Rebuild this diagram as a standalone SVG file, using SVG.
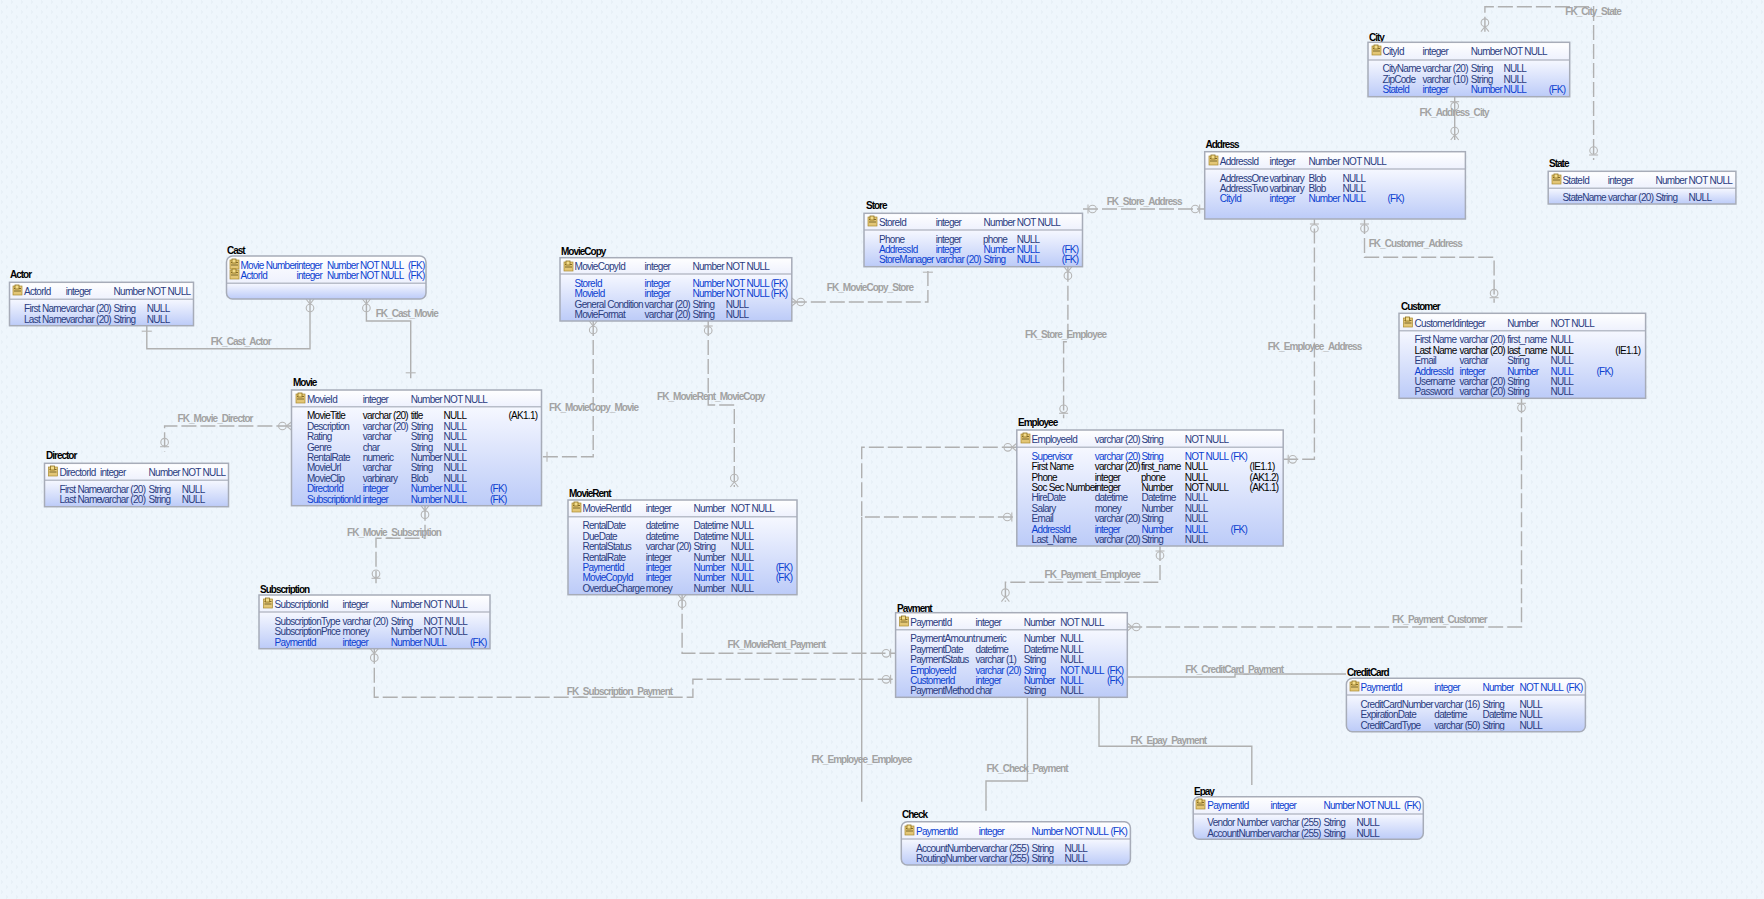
<svg xmlns="http://www.w3.org/2000/svg" width="1764" height="899" viewBox="0 0 1764 899">
<style>
text{font-family:"Liberation Sans",Arial,sans-serif;font-size:10px;letter-spacing:-.72px;white-space:pre}
.t{font-weight:700;font-size:10px;letter-spacing:-1px;fill:#000}
.l{font-weight:700;font-size:10px;letter-spacing:-.95px;fill:#a2a2a2}
.n{fill:#2a3c7e}.f{fill:#0b3fd0}.k{fill:#000}
.o{fill:none;stroke:#a7acb8;stroke-width:1.5}
.h{fill:url(#hg)}.b{fill:url(#bg)}
.d{stroke:#b8bdc9;stroke-width:1.5;fill:none}
.s,.w{fill:none;stroke:#b0b0b0;stroke-width:1.4}
.w{stroke-dasharray:15 4}
.m{fill:none;stroke:#b6b6b6;stroke-width:1.1}
</style>
<defs>
<pattern id="p" width="10" height="10" patternUnits="userSpaceOnUse"><rect width="10" height="10" fill="#eff6fc"/><path d="M1 1h1M2 2h1M1 3h1M6 6h1M7 7h1M6 8h1" stroke="#e2eaf3" stroke-width="1"/></pattern>
<linearGradient id="hg" x1="0" y1="0" x2="0" y2="1"><stop offset="0" stop-color="#fff"/><stop offset="1" stop-color="#eef1fd"/></linearGradient>
<linearGradient id="bg" x1="0" y1="0" x2="0" y2="1"><stop offset="0" stop-color="#f6f8ff"/><stop offset="1" stop-color="#bccbf8"/></linearGradient>
<g id="key"><rect x="0" y="1" width="9" height="9" fill="#e3c676" stroke="#a98a30" stroke-width=".7"/><path d="M1 3.5h7M1 6h7" stroke="#7d6a2c" stroke-width="1"/><rect x="2" y="0" width="4" height="4" fill="#f3dc8a" stroke="#8d6f1d" stroke-width=".8"/></g>
<g id="cf" class="m"><path d="M-4 0L0 5L4 0"/><circle cx="0" cy="9" r="3.8"/></g>
<g id="zb" class="m"><path d="M-4.5 5H4.5"/><circle cx="0" cy="9.5" r="3.8"/></g>
<g id="cr" class="m"><path d="M-5 5.5H5"/></g>
<clipPath id="c1"><rect x="902" y="850" width="228" height="13.5"/></clipPath>
<clipPath id="c2"><rect x="1347" y="717" width="238" height="13.2"/></clipPath>
</defs>
<rect width="1764" height="899" fill="url(#p)"/>

<g id="connectors">
<path class="s" d="M146.8 326V348.7H310V299"/>
<path class="s" d="M366.4 299V321H410.7V378.3"/>
<path class="w" d="M291.4 426H164.6V451.7"/>
<path class="w" d="M593.2 321V456.7H541.5"/>
<path class="w" d="M708.2 321V405H734.3V487"/>
<path class="w" d="M791.8 302H927.9V266.7"/>
<path class="w" d="M1067.9 266.7V341.7H1063.6V418.3"/>
<path class="w" d="M1083 209H1204.7"/>
<path class="s" d="M1454.7 96.7V140"/>
<path class="w" d="M1484.9 31.7V6.7H1593.6V160"/>
<path class="w" d="M1283.2 459.3H1314.4V219"/>
<path class="w" d="M1364.5 219V257.3H1494.1V302.7"/>
<path class="w" d="M1016.8 447.3H861.7V517H1016.8"/>
<path class="s" d="M861.7 517V801.7"/>
<path class="w" d="M1160 546V582.3H1005.4V601.7"/>
<path class="w" d="M1521.5 398.3V627H1127.3"/>
<path class="w" d="M682.1 594.7V653.3H895.6"/>
<path class="w" d="M374.3 648.7V697.3H692.9V679.3H895.6"/>
<path class="w" d="M425 505.7V538.3H376V583.3"/>
<path class="s" d="M1127.3 677H1235V674H1346"/>
<path class="s" d="M1099 697.3V746.3H1251.8V785"/>
<path class="s" d="M1027.4 697.3V781H986V810.7"/>
<use href="#cr" transform="translate(146.8 325.7)"/><use href="#cf" transform="translate(310 299)"/>
<use href="#cf" transform="translate(366.4 299)"/><use href="#cr" transform="translate(410.7 378.3) rotate(180)"/>
<use href="#cf" transform="translate(291.4 426) rotate(90)"/><use href="#zb" transform="translate(164.6 451.7) rotate(180)"/>
<use href="#cf" transform="translate(593.2 321)"/><use href="#cr" transform="translate(541.5 456.7) rotate(-90)"/>
<use href="#zb" transform="translate(708.2 321)"/><use href="#cf" transform="translate(734.3 487) rotate(180)"/>
<use href="#cf" transform="translate(791.8 302) rotate(-90)"/><use href="#cr" transform="translate(927.9 266.7)"/>
<use href="#cf" transform="translate(1067.9 266.7)"/><use href="#zb" transform="translate(1063.6 418.3) rotate(180)"/>
<use href="#zb" transform="translate(1083 209) rotate(-90)"/><use href="#zb" transform="translate(1204.7 209) rotate(90)"/>
<use href="#zb" transform="translate(1454.7 96.7)"/><use href="#cf" transform="translate(1454.7 140) rotate(180)"/>
<use href="#cf" transform="translate(1484.9 31.7) rotate(180)"/><use href="#zb" transform="translate(1593.6 160) rotate(180)"/>
<use href="#zb" transform="translate(1283.2 459.3) rotate(-90)"/><use href="#zb" transform="translate(1314.4 219)"/>
<use href="#zb" transform="translate(1364.5 219)"/><use href="#zb" transform="translate(1494.1 302.7) rotate(180)"/>
<use href="#cf" transform="translate(1016.8 447.3) rotate(90)"/><use href="#zb" transform="translate(1016.8 517) rotate(90)"/>
<use href="#zb" transform="translate(1160 546)"/><use href="#cf" transform="translate(1005.4 601.7) rotate(180)"/>
<use href="#zb" transform="translate(1521.5 398.3)"/><use href="#cf" transform="translate(1127.3 627) rotate(-90)"/>
<use href="#cf" transform="translate(682.1 594.7)"/><use href="#zb" transform="translate(895.6 653.3) rotate(90)"/>
<use href="#cf" transform="translate(374.3 648.7)"/><use href="#zb" transform="translate(895.6 679.3) rotate(90)"/>
<use href="#cf" transform="translate(425 505.7)"/><use href="#zb" transform="translate(376 583.3) rotate(180)"/>
<text class="l" x="210.7" y="345">FK_Cast_Actor</text>
<text class="l" x="375.7" y="317">FK_Cast_Movie</text>
<text class="l" x="177.5" y="422">FK_Movie_Director</text>
<text class="l" x="549" y="411">FK_MovieCopy_Movie</text>
<text class="l" x="657" y="400">FK_MovieRent_MovieCopy</text>
<text class="l" x="826.8" y="291">FK_MovieCopy_Store</text>
<text class="l" x="1025" y="338">FK_Store_Employee</text>
<text class="l" x="1106.7" y="205">FK_Store_Address</text>
<text class="l" x="1419.6" y="116">FK_Address_City</text>
<text class="l" x="1565.3" y="14.5">FK_City_State</text>
<text class="l" x="1267.7" y="350">FK_Employee_Address</text>
<text class="l" x="1368.7" y="247">FK_Customer_Address</text>
<text class="l" x="811.4" y="763">FK_Employee_Employee</text>
<text class="l" x="1044.6" y="578">FK_Payment_Employee</text>
<text class="l" x="1391.9" y="623">FK_Payment_Customer</text>
<text class="l" x="727.5" y="648">FK_MovieRent_Payment</text>
<text class="l" x="566.8" y="695">FK_Subscription_Payment</text>
<text class="l" x="347" y="536">FK_Movie_Subscription</text>
<text class="l" x="1185.3" y="673">FK_CreditCard_Payment</text>
<text class="l" x="1130.4" y="744">FK_Epay_Payment</text>
<text class="l" x="986.6" y="772">FK_Check_Payment</text>
</g>

<g id="Actor">
<text class="t" x="10" y="278">Actor</text>
<rect class="b" x="9.5" y="299.3" width="184" height="26.4"/><rect class="h" x="9.5" y="282.3" width="184" height="17"/><line class="d" x1="9.5" x2="193.5" y1="299.3" y2="299.3"/><rect class="o" x="9.5" y="282.3" width="184" height="43.4"/>
<use href="#key" x="13" y="285"/>
<text class="n" y="295"><tspan x="24">ActorId</tspan> <tspan x="65.7">integer</tspan> <tspan x="113.6">Number</tspan> <tspan x="146.8">NOT NULL</tspan></text>
<text class="n" y="312"><tspan x="24">First Name</tspan> <tspan x="65.7">varchar (20)</tspan> <tspan x="113.6">String</tspan> <tspan x="146.8">NULL</tspan></text>
<text class="n" y="323"><tspan x="24">Last Name</tspan> <tspan x="65.7">varchar (20)</tspan> <tspan x="113.6">String</tspan> <tspan x="146.8">NULL</tspan></text>
</g>

<g id="Cast">
<text class="t" x="227" y="254">Cast</text>
<path class="b" d="M226.5 283.3H426V293Q426 299 420 299H232.5Q226.5 299 226.5 293Z"/><path class="h" d="M226.5 283.3V262Q226.5 256 232.5 256H420Q426 256 426 262V283.3Z"/><line class="d" x1="226.5" x2="426" y1="283.3" y2="283.3"/><rect class="o" x="226.5" y="256" width="199.5" height="43" rx="6"/>
<use href="#key" x="230" y="259"/><use href="#key" x="230" y="269"/>
<text class="f" y="269"><tspan x="240.5">Movie Number</tspan> <tspan x="296.5">integer</tspan> <tspan x="327">Number</tspan> <tspan x="360">NOT NULL</tspan> <tspan x="408">(FK)</tspan></text>
<text class="f" y="279"><tspan x="240.5">ActorId</tspan> <tspan x="296.5">integer</tspan> <tspan x="327">Number</tspan> <tspan x="360">NOT NULL</tspan> <tspan x="408">(FK)</tspan></text>
</g>

<g id="Movie">
<text class="t" x="293" y="386">Movie</text>
<rect class="b" x="291.5" y="406.7" width="250" height="99"/><rect class="h" x="291.5" y="390" width="250" height="16.7"/><line class="d" x1="291.5" x2="541.5" y1="406.7" y2="406.7"/><rect class="o" x="291.5" y="390" width="250" height="115.7"/>
<use href="#key" x="296" y="393"/>
<text class="n" y="403"><tspan x="307">MovieId</tspan> <tspan x="362.7">integer</tspan> <tspan x="410.7">Number</tspan> <tspan x="443.6">NOT NULL</tspan></text>
<text class="k" y="419"><tspan x="307">MovieTitle</tspan> <tspan x="362.7">varchar (20)</tspan> <tspan x="410.7">title</tspan> <tspan x="443.6">NULL</tspan> <tspan x="508.5">(AK1.1)</tspan></text>
<text class="n" y="430"><tspan x="307">Description</tspan> <tspan x="362.7">varchar (20)</tspan> <tspan x="410.7">String</tspan> <tspan x="443.6">NULL</tspan></text>
<text class="n" y="440"><tspan x="307">Rating</tspan> <tspan x="362.7">varchar</tspan> <tspan x="410.7">String</tspan> <tspan x="443.6">NULL</tspan></text>
<text class="n" y="451"><tspan x="307">Genre</tspan> <tspan x="362.7">char</tspan> <tspan x="410.7">String</tspan> <tspan x="443.6">NULL</tspan></text>
<text class="n" y="461"><tspan x="307">RentalRate</tspan> <tspan x="362.7">numeric</tspan> <tspan x="410.7">Number</tspan> <tspan x="443.6">NULL</tspan></text>
<text class="n" y="471"><tspan x="307">MovieUrl</tspan> <tspan x="362.7">varchar</tspan> <tspan x="410.7">String</tspan> <tspan x="443.6">NULL</tspan></text>
<text class="n" y="482"><tspan x="307">MovieClip</tspan> <tspan x="362.7">varbinary</tspan> <tspan x="410.7">Blob</tspan> <tspan x="443.6">NULL</tspan></text>
<text class="f" y="492"><tspan x="307">DirectorId</tspan> <tspan x="362.7">integer</tspan> <tspan x="410.7">Number</tspan> <tspan x="443.6">NULL</tspan> <tspan x="490">(FK)</tspan></text>
<text class="f" y="503"><tspan x="307">SubscriptionId</tspan> <tspan x="362.7">integer</tspan> <tspan x="410.7">Number</tspan> <tspan x="443.6">NULL</tspan> <tspan x="490">(FK)</tspan></text>
</g>

<g id="Director">
<text class="t" x="46" y="459">Director</text>
<rect class="b" x="44.5" y="480.3" width="184" height="26.4"/><rect class="h" x="44.5" y="463.3" width="184" height="17"/><line class="d" x1="44.5" x2="228.5" y1="480.3" y2="480.3"/><rect class="o" x="44.5" y="463.3" width="184" height="43.4"/>
<use href="#key" x="48.5" y="466"/>
<text class="n" y="476"><tspan x="59.5">DirectorId</tspan> <tspan x="100">integer</tspan> <tspan x="148.6">Number</tspan> <tspan x="181.8">NOT NULL</tspan></text>
<text class="n" y="493"><tspan x="59.5">First Name</tspan> <tspan x="100">varchar (20)</tspan> <tspan x="148.6">String</tspan> <tspan x="181.8">NULL</tspan></text>
<text class="n" y="503"><tspan x="59.5">Last Name</tspan> <tspan x="100">varchar (20)</tspan> <tspan x="148.6">String</tspan> <tspan x="181.8">NULL</tspan></text>
</g>

<g id="Subscription">
<text class="t" x="260" y="593">Subscription</text>
<rect class="b" x="259" y="612" width="231" height="36.7"/><rect class="h" x="259" y="595" width="231" height="17"/><line class="d" x1="259" x2="490" y1="612" y2="612"/><rect class="o" x="259" y="595" width="231" height="53.7"/>
<use href="#key" x="263.5" y="598"/>
<text class="n" y="608"><tspan x="274.6">SubscriptionId</tspan> <tspan x="342.5">integer</tspan> <tspan x="390.7">Number</tspan> <tspan x="423.6">NOT NULL</tspan></text>
<text class="n" y="625"><tspan x="274.6">SubscriptionType</tspan> <tspan x="342.5">varchar (20)</tspan> <tspan x="390.7">String</tspan> <tspan x="423.6">NOT NULL</tspan></text>
<text class="n" y="635"><tspan x="274.6">SubscriptionPrice</tspan> <tspan x="342.5">money</tspan> <tspan x="390.7">Number</tspan> <tspan x="423.6">NOT NULL</tspan></text>
<text class="f" y="646"><tspan x="274.6">PaymentId</tspan> <tspan x="342.5">integer</tspan> <tspan x="390.7">Number</tspan> <tspan x="423.6">NULL</tspan> <tspan x="470">(FK)</tspan></text>
</g>

<g id="MovieCopy">
<text class="t" x="561" y="255">MovieCopy</text>
<rect class="b" x="560" y="274" width="231.8" height="47"/><rect class="h" x="560" y="257.7" width="231.8" height="16.3"/><line class="d" x1="560" x2="791.8" y1="274" y2="274"/><rect class="o" x="560" y="257.7" width="231.8" height="63.3"/>
<use href="#key" x="564" y="261"/>
<text class="n" y="270"><tspan x="574.6">MovieCopyId</tspan> <tspan x="644.6">integer</tspan> <tspan x="692.5">Number</tspan> <tspan x="725.7">NOT NULL</tspan></text>
<text class="f" y="287"><tspan x="574.6">StoreId</tspan> <tspan x="644.6">integer</tspan> <tspan x="692.5">Number</tspan> <tspan x="725.7">NOT NULL</tspan> <tspan x="770.7">(FK)</tspan></text>
<text class="f" y="297"><tspan x="574.6">MovieId</tspan> <tspan x="644.6">integer</tspan> <tspan x="692.5">Number</tspan> <tspan x="725.7">NOT NULL</tspan> <tspan x="770.7">(FK)</tspan></text>
<text class="n" y="308"><tspan x="574.6">General Condition</tspan> <tspan x="644.6">varchar (20)</tspan> <tspan x="692.5">String</tspan> <tspan x="725.7">NULL</tspan></text>
<text class="n" y="318"><tspan x="574.6">MovieFormat</tspan> <tspan x="644.6">varchar (20)</tspan> <tspan x="692.5">String</tspan> <tspan x="725.7">NULL</tspan></text>
</g>

<g id="MovieRent">
<text class="t" x="569" y="497">MovieRent</text>
<rect class="b" x="568" y="516.7" width="229" height="78"/><rect class="h" x="568" y="500" width="229" height="16.7"/><line class="d" x1="568" x2="797" y1="516.7" y2="516.7"/><rect class="o" x="568" y="500" width="229" height="94.7"/>
<use href="#key" x="572" y="502"/>
<text class="n" y="512"><tspan x="582.5">MovieRentId</tspan> <tspan x="645.7">integer</tspan> <tspan x="693.6">Number</tspan> <tspan x="730.7">NOT NULL</tspan></text>
<text class="n" y="529"><tspan x="582.5">RentalDate</tspan> <tspan x="645.7">datetime</tspan> <tspan x="693.6">Datetime</tspan> <tspan x="730.7">NULL</tspan></text>
<text class="n" y="540"><tspan x="582.5">DueDate</tspan> <tspan x="645.7">datetime</tspan> <tspan x="693.6">Datetime</tspan> <tspan x="730.7">NULL</tspan></text>
<text class="n" y="550"><tspan x="582.5">RentalStatus</tspan> <tspan x="645.7">varchar (20)</tspan> <tspan x="693.6">String</tspan> <tspan x="730.7">NULL</tspan></text>
<text class="n" y="561"><tspan x="582.5">RentalRate</tspan> <tspan x="645.7">integer</tspan> <tspan x="693.6">Number</tspan> <tspan x="730.7">NULL</tspan></text>
<text class="f" y="571"><tspan x="582.5">PaymentId</tspan> <tspan x="645.7">integer</tspan> <tspan x="693.6">Number</tspan> <tspan x="730.7">NULL</tspan> <tspan x="775.7">(FK)</tspan></text>
<text class="f" y="581"><tspan x="582.5">MovieCopyId</tspan> <tspan x="645.7">integer</tspan> <tspan x="693.6">Number</tspan> <tspan x="730.7">NULL</tspan> <tspan x="775.7">(FK)</tspan></text>
<text class="n" y="592"><tspan x="582.5">OverdueCharge</tspan> <tspan x="645.7">money</tspan> <tspan x="693.6">Number</tspan> <tspan x="730.7">NULL</tspan></text>
</g>

<g id="Store">
<text class="t" x="866" y="209">Store</text>
<rect class="b" x="864" y="230" width="218.5" height="36.7"/><rect class="h" x="864" y="213.3" width="218.5" height="16.7"/><line class="d" x1="864" x2="1082.5" y1="230" y2="230"/><rect class="o" x="864" y="213.3" width="218.5" height="53.4"/>
<use href="#key" x="868" y="216"/>
<text class="n" y="226"><tspan x="879">StoreId</tspan> <tspan x="935.7">integer</tspan> <tspan x="983.6">Number</tspan> <tspan x="1016.7">NOT NULL</tspan></text>
<text class="n" y="243"><tspan x="879">Phone</tspan> <tspan x="935.7">integer</tspan> <tspan x="983">phone</tspan> <tspan x="1016.7">NULL</tspan></text>
<text class="f" y="253"><tspan x="879">AddressId</tspan> <tspan x="935.7">integer</tspan> <tspan x="983.6">Number</tspan> <tspan x="1016.7">NULL</tspan> <tspan x="1061.8">(FK)</tspan></text>
<text class="f" y="263"><tspan x="879">StoreManager</tspan> <tspan x="935.7">varchar (20)</tspan> <tspan x="983.6">String</tspan> <tspan x="1016.7">NULL</tspan> <tspan x="1061.8">(FK)</tspan></text>
</g>

<g id="City">
<text class="t" x="1369" y="41">City</text>
<rect class="b" x="1368" y="60" width="201.7" height="36.7"/><rect class="h" x="1368" y="42.3" width="201.7" height="17.7"/><line class="d" x1="1368" x2="1569.7" y1="60" y2="60"/><rect class="o" x="1368" y="42.3" width="201.7" height="54.4"/>
<use href="#key" x="1372" y="45"/>
<text class="n" y="55"><tspan x="1382.5">CityId</tspan> <tspan x="1422.5">integer</tspan> <tspan x="1470.8">Number</tspan> <tspan x="1503.4">NOT NULL</tspan></text>
<text class="n" y="72"><tspan x="1382.5">CityName</tspan> <tspan x="1422.5">varchar (20)</tspan> <tspan x="1470.8">String</tspan> <tspan x="1503.4">NULL</tspan></text>
<text class="n" y="83"><tspan x="1382.5">ZipCode</tspan> <tspan x="1422.5">varchar (10)</tspan> <tspan x="1470.8">String</tspan> <tspan x="1503.4">NULL</tspan></text>
<text class="f" y="93"><tspan x="1382.5">StateId</tspan> <tspan x="1422.5">integer</tspan> <tspan x="1470.8">Number</tspan> <tspan x="1503.4">NULL</tspan> <tspan x="1548.7">(FK)</tspan></text>
</g>

<g id="Address">
<text class="t" x="1205.5" y="148">Address</text>
<rect class="b" x="1204.7" y="169" width="260.7" height="50"/><rect class="h" x="1204.7" y="151.7" width="260.7" height="17.3"/><line class="d" x1="1204.7" x2="1465.4" y1="169" y2="169"/><rect class="o" x="1204.7" y="151.7" width="260.7" height="67.3"/>
<use href="#key" x="1209" y="155"/>
<text class="n" y="165"><tspan x="1219.8">AddressId</tspan> <tspan x="1269.5">integer</tspan> <tspan x="1308.5">Number</tspan> <tspan x="1342.6">NOT NULL</tspan></text>
<text class="n" y="182"><tspan x="1219.8">AddressOne</tspan> <tspan x="1269.5">varbinary</tspan> <tspan x="1308.5">Blob</tspan> <tspan x="1342.6">NULL</tspan></text>
<text class="n" y="192"><tspan x="1219.8">AddressTwo</tspan> <tspan x="1269.5">varbinary</tspan> <tspan x="1308.5">Blob</tspan> <tspan x="1342.6">NULL</tspan></text>
<text class="f" y="202"><tspan x="1219.8">CityId</tspan> <tspan x="1269.5">integer</tspan> <tspan x="1308.5">Number</tspan> <tspan x="1342.6">NULL</tspan> <tspan x="1387.4">(FK)</tspan></text>
</g>

<g id="State">
<text class="t" x="1549" y="167">State</text>
<rect class="b" x="1548.2" y="188.3" width="187.7" height="15.7"/><rect class="h" x="1548.2" y="171.3" width="187.7" height="17"/><line class="d" x1="1548.2" x2="1735.9" y1="188.3" y2="188.3"/><rect class="o" x="1548.2" y="171.3" width="187.7" height="32.7"/>
<use href="#key" x="1552" y="174"/>
<text class="n" y="184"><tspan x="1562.4">StateId</tspan> <tspan x="1607.7">integer</tspan> <tspan x="1655.5">Number</tspan> <tspan x="1688.6">NOT NULL</tspan></text>
<text class="n" y="201"><tspan x="1562.4">StateName</tspan> <tspan x="1608">varchar (20)</tspan> <tspan x="1655.5">String</tspan> <tspan x="1688.6">NULL</tspan></text>
</g>

<g id="Customer">
<text class="t" x="1401" y="310">Customer</text>
<rect class="b" x="1399" y="330.7" width="246.6" height="67.6"/><rect class="h" x="1399" y="313.3" width="246.6" height="17.4"/><line class="d" x1="1399" x2="1645.6" y1="330.7" y2="330.7"/><rect class="o" x="1399" y="313.3" width="246.6" height="85"/>
<use href="#key" x="1403.5" y="317"/>
<text class="n" y="327"><tspan x="1414.6">CustomerId</tspan> <tspan x="1459.6">integer</tspan> <tspan x="1507.2">Number</tspan> <tspan x="1550.5">NOT NULL</tspan></text>
<text class="n" y="343"><tspan x="1414.6">First Name</tspan> <tspan x="1459.6">varchar (20)</tspan> <tspan x="1507.2">first_name</tspan> <tspan x="1550.5">NULL</tspan></text>
<text class="k" y="354"><tspan x="1414.6">Last Name</tspan> <tspan x="1459.6">varchar (20)</tspan> <tspan x="1507.2">last_name</tspan> <tspan x="1550.5">NULL</tspan> <tspan x="1615.3">(IE1.1)</tspan></text>
<text class="n" y="364"><tspan x="1414.6">Email</tspan> <tspan x="1459.6">varchar</tspan> <tspan x="1507.2">String</tspan> <tspan x="1550.5">NULL</tspan></text>
<text class="f" y="375"><tspan x="1414.6">AddressId</tspan> <tspan x="1459.6">integer</tspan> <tspan x="1507.2">Number</tspan> <tspan x="1550.5">NULL</tspan> <tspan x="1596.4">(FK)</tspan></text>
<text class="n" y="385"><tspan x="1414.6">Username</tspan> <tspan x="1459.6">varchar (20)</tspan> <tspan x="1507.2">String</tspan> <tspan x="1550.5">NULL</tspan></text>
<text class="n" y="395"><tspan x="1414.6">Password</tspan> <tspan x="1459.6">varchar (20)</tspan> <tspan x="1507.2">String</tspan> <tspan x="1550.5">NULL</tspan></text>
</g>

<g id="Employee">
<text class="t" x="1018" y="426">Employee</text>
<rect class="b" x="1016.8" y="447.3" width="266.4" height="98.7"/><rect class="h" x="1016.8" y="430" width="266.4" height="17.3"/><line class="d" x1="1016.8" x2="1283.2" y1="447.3" y2="447.3"/><rect class="o" x="1016.8" y="430" width="266.4" height="116"/>
<use href="#key" x="1021" y="433"/>
<text class="n" y="443"><tspan x="1031.6">EmployeeId</tspan> <tspan x="1094.7">varchar (20)</tspan> <tspan x="1141.4">String</tspan> <tspan x="1184.8">NOT NULL</tspan></text>
<text class="f" y="460"><tspan x="1031.6">Supervisor</tspan> <tspan x="1094.7">varchar (20)</tspan> <tspan x="1141.4">String</tspan> <tspan x="1184.8">NOT NULL</tspan> <tspan x="1230.6">(FK)</tspan></text>
<text class="k" y="470"><tspan x="1031.6">First Name</tspan> <tspan x="1094.7">varchar (20)</tspan> <tspan x="1141">first_name</tspan> <tspan x="1184.8">NULL</tspan> <tspan x="1249.6">(IE1.1)</tspan></text>
<text class="k" y="481"><tspan x="1031.6">Phone</tspan> <tspan x="1094.7">integer</tspan> <tspan x="1141">phone</tspan> <tspan x="1184.8">NULL</tspan> <tspan x="1249.6">(AK1.2)</tspan></text>
<text class="k" y="491"><tspan x="1031.6">Soc Sec Number</tspan> <tspan x="1094.7">integer</tspan> <tspan x="1141.4">Number</tspan> <tspan x="1184.8">NOT NULL</tspan> <tspan x="1249.6">(AK1.1)</tspan></text>
<text class="n" y="501"><tspan x="1031.6">HireDate</tspan> <tspan x="1094.7">datetime</tspan> <tspan x="1141.4">Datetime</tspan> <tspan x="1184.8">NULL</tspan></text>
<text class="n" y="512"><tspan x="1031.6">Salary</tspan> <tspan x="1094.7">money</tspan> <tspan x="1141.4">Number</tspan> <tspan x="1184.8">NULL</tspan></text>
<text class="n" y="522"><tspan x="1031.6">Email</tspan> <tspan x="1094.7">varchar (20)</tspan> <tspan x="1141.4">String</tspan> <tspan x="1184.8">NULL</tspan></text>
<text class="f" y="533"><tspan x="1031.6">AddressId</tspan> <tspan x="1094.7">integer</tspan> <tspan x="1141.4">Number</tspan> <tspan x="1184.8">NULL</tspan> <tspan x="1230.6">(FK)</tspan></text>
<text class="n" y="543"><tspan x="1031.6">Last_Name</tspan> <tspan x="1094.7">varchar (20)</tspan> <tspan x="1141.4">String</tspan> <tspan x="1184.8">NULL</tspan></text>
</g>

<g id="Payment">
<text class="t" x="897" y="611.5">Payment</text>
<rect class="b" x="895.6" y="629.7" width="231.7" height="67.6"/><rect class="h" x="895.6" y="612.7" width="231.7" height="17"/><line class="d" x1="895.6" x2="1127.3" y1="629.7" y2="629.7"/><rect class="o" x="895.6" y="612.7" width="231.7" height="84.6"/>
<use href="#key" x="899.5" y="616"/>
<text class="n" y="626"><tspan x="910.2">PaymentId</tspan> <tspan x="975.6">integer</tspan> <tspan x="1023.7">Number</tspan> <tspan x="1060.3">NOT NULL</tspan></text>
<text class="n" y="642"><tspan x="910.2">PaymentAmount</tspan> <tspan x="975.6">numeric</tspan> <tspan x="1023.7">Number</tspan> <tspan x="1060.3">NULL</tspan></text>
<text class="n" y="653"><tspan x="910.2">PaymentDate</tspan> <tspan x="975.6">datetime</tspan> <tspan x="1023.7">Datetime</tspan> <tspan x="1060.3">NULL</tspan></text>
<text class="n" y="663"><tspan x="910.2">PaymentStatus</tspan> <tspan x="975.6">varchar (1)</tspan> <tspan x="1023.7">String</tspan> <tspan x="1060.3">NULL</tspan></text>
<text class="f" y="674"><tspan x="910.2">EmployeeId</tspan> <tspan x="975.6">varchar (20)</tspan> <tspan x="1023.7">String</tspan> <tspan x="1060.3">NOT NULL</tspan> <tspan x="1106.9">(FK)</tspan></text>
<text class="f" y="684"><tspan x="910.2">CustomerId</tspan> <tspan x="975.6">integer</tspan> <tspan x="1023.7">Number</tspan> <tspan x="1060.3">NULL</tspan> <tspan x="1106.9">(FK)</tspan></text>
<text class="n" y="694"><tspan x="910.2">PaymentMethod</tspan> <tspan x="975.6">char</tspan> <tspan x="1023.7">String</tspan> <tspan x="1060.3">NULL</tspan></text>
</g>

<g id="CreditCard">
<text class="t" x="1347" y="676">CreditCard</text>
<path class="b" d="M1346.4 695H1585.4V725.7Q1585.4 731.7 1579.4 731.7H1352.4Q1346.4 731.7 1346.4 725.7Z"/><path class="h" d="M1346.4 695V684.3Q1346.4 678.3 1352.4 678.3H1579.4Q1585.4 678.3 1585.4 684.3V695Z"/><line class="d" x1="1346.4" x2="1585.4" y1="695" y2="695"/><rect class="o" x="1346.4" y="678.3" width="239" height="53.4" rx="6"/>
<use href="#key" x="1350" y="681"/>
<text class="f" y="691"><tspan x="1360.5">PaymentId</tspan> <tspan x="1434.3">integer</tspan> <tspan x="1482.4">Number</tspan> <tspan x="1519.5">NOT NULL</tspan> <tspan x="1566">(FK)</tspan></text>
<text class="n" y="708"><tspan x="1360.5">CreditCardNumber</tspan> <tspan x="1434.3">varchar (16)</tspan> <tspan x="1482.4">String</tspan> <tspan x="1519.5">NULL</tspan></text>
<text class="n" y="718"><tspan x="1360.5">ExpirationDate</tspan> <tspan x="1434.3">datetime</tspan> <tspan x="1482.4">Datetime</tspan> <tspan x="1519.5">NULL</tspan></text>
<text class="n" y="729" clip-path="url(#c2)"><tspan x="1360.5">CreditCardType</tspan> <tspan x="1434.3">varchar (50)</tspan> <tspan x="1482.4">String</tspan> <tspan x="1519.5">NULL</tspan></text>
</g>

<g id="Epay">
<text class="t" x="1194" y="795">Epay</text>
<path class="b" d="M1193.2 814H1423.3V833.3Q1423.3 839.3 1417.3 839.3H1199.2Q1193.2 839.3 1193.2 833.3Z"/><path class="h" d="M1193.2 814V802.7Q1193.2 796.7 1199.2 796.7H1417.3Q1423.3 796.7 1423.3 802.7V814Z"/><line class="d" x1="1193.2" x2="1423.3" y1="814" y2="814"/><rect class="o" x="1193.2" y="796.7" width="230.1" height="42.6" rx="6"/>
<use href="#key" x="1196" y="799"/>
<text class="f" y="809"><tspan x="1207.3">PaymentId</tspan> <tspan x="1270.6">integer</tspan> <tspan x="1323.4">Number</tspan> <tspan x="1356.4">NOT NULL</tspan> <tspan x="1404">(FK)</tspan></text>
<text class="n" y="826"><tspan x="1207.3">Vendor Number</tspan> <tspan x="1270.6">varchar (255)</tspan> <tspan x="1323.4">String</tspan> <tspan x="1356.4">NULL</tspan></text>
<text class="n" y="837"><tspan x="1207.3">AccountNumber</tspan> <tspan x="1270.6">varchar (255)</tspan> <tspan x="1323.4">String</tspan> <tspan x="1356.4">NULL</tspan></text>
</g>

<g id="Check">
<text class="t" x="902" y="818">Check</text>
<path class="b" d="M901.3 839H1130.4V859Q1130.4 865 1124.4 865H907.3Q901.3 865 901.3 859Z"/><path class="h" d="M901.3 839V827.7Q901.3 821.7 907.3 821.7H1124.4Q1130.4 821.7 1130.4 827.7V839Z"/><line class="d" x1="901.3" x2="1130.4" y1="839" y2="839"/><rect class="o" x="901.3" y="821.7" width="229.1" height="43.3" rx="6"/>
<use href="#key" x="905" y="825"/>
<text class="f" y="835"><tspan x="916">PaymentId</tspan> <tspan x="978.7">integer</tspan> <tspan x="1031.6">Number</tspan> <tspan x="1064.5">NOT NULL</tspan> <tspan x="1110.5">(FK)</tspan></text>
<text class="n" y="852"><tspan x="916">AccountNumber</tspan> <tspan x="978.7">varchar (255)</tspan> <tspan x="1031.6">String</tspan> <tspan x="1064.5">NULL</tspan></text>
<text class="n" y="862" clip-path="url(#c1)"><tspan x="916">RoutingNumber</tspan> <tspan x="978.7">varchar (255)</tspan> <tspan x="1031.6">String</tspan> <tspan x="1064.5">NULL</tspan></text>
</g>
</svg>
